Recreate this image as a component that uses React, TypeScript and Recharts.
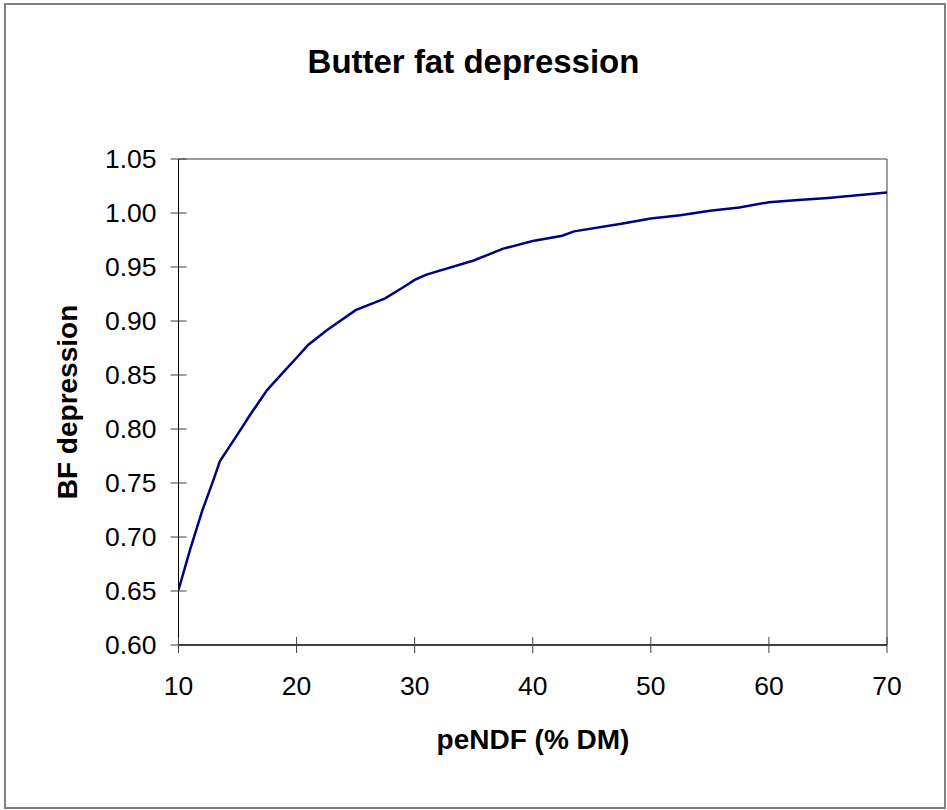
import React from 'react';
import { LineChart, Line, XAxis, YAxis, ReferenceLine } from 'recharts';

const peNDF = [10, 11, 12, 13, 13.5, 15, 16, 17.5, 19, 20, 21, 22.5, 25, 27.5, 29, 30, 31, 35, 37.5, 40, 42.5, 43.5, 47.5, 50, 52.5, 55, 57.5, 60, 62.5, 65, 70];
const bfDepression = [0.651, 0.689, 0.724, 0.754, 0.770, 0.795, 0.812, 0.836, 0.854, 0.866, 0.878, 0.891, 0.910, 0.921, 0.931, 0.938, 0.943, 0.956, 0.967, 0.974, 0.979, 0.983, 0.990, 0.995, 0.998, 1.002, 1.005, 1.010, 1.012, 1.014, 1.019];
const xTicks = [10, 20, 30, 40, 50, 60, 70];
const yTicks = [0.6, 0.65, 0.7, 0.75, 0.8, 0.85, 0.9, 0.95, 1.0, 1.05];

const title = 'Butter fat depression';
const xTitle = 'peNDF (% DM)';
const yTitle = 'BF depression';

const data = peNDF.map((x, i) => ({ x, y: bfDepression[i] }));

const FONT = '"Liberation Sans", Arial, Helvetica, sans-serif';
const TICK_SIZE = 8;
const Y_MARGIN = 14;
const X_MARGIN = 23;

const YTick = (props: any) => {
  const { x, y, payload } = props;
  const axisX = x + TICK_SIZE + Y_MARGIN;
  return (
    <g>
      <line x1={axisX} x2={axisX + TICK_SIZE} y1={y} y2={y} stroke="#404040" strokeWidth={1} />
      <text x={x} y={y} textAnchor="end" dominantBaseline="central" fontFamily={FONT} fontSize={26.5} fill="#000">
        {payload.value.toFixed(2)}
      </text>
    </g>
  );
};

const XTick = (props: any) => {
  const { x, y, payload } = props;
  const axisY = y - TICK_SIZE - X_MARGIN;
  return (
    <g>
      <line x1={x} x2={x} y1={axisY - TICK_SIZE} y2={axisY} stroke="#404040" strokeWidth={1} />
      <text x={x} y={y} textAnchor="middle" dy="0.71em" fontFamily={FONT} fontSize={26.5} fill="#000">
        {payload.value}
      </text>
    </g>
  );
};

export default function App() {
  return (
    <div style={{ position: 'absolute', left: 0, top: 0, width: 947, height: 810, background: '#fff', fontFamily: FONT }}>
      <div style={{ position: 'absolute', left: 4, top: 3, width: 942, height: 806, border: '2px solid #808080', boxSizing: 'border-box' }} />
      <div style={{ position: 'absolute', left: 0, top: 0, width: 947 }}>
        <LineChart width={947} height={810} data={data} margin={{ top: 159, right: 60, bottom: 105, left: 0 }}>
          <XAxis
            dataKey="x"
            type="number"
            domain={[10, 70]}
            ticks={xTicks}
            height={60}
            tickSize={TICK_SIZE}
            tickMargin={X_MARGIN}
            tick={<XTick />}
            axisLine={{ stroke: '#404040', strokeWidth: 2 }}
            tickLine={{ stroke: '#404040' }}
            allowDataOverflow
          />
          <YAxis
            dataKey="y"
            type="number"
            domain={[0.6, 1.05]}
            ticks={yTicks}
            width={178.5}
            tickSize={TICK_SIZE}
            tickMargin={Y_MARGIN}
            tick={<YTick />}
            axisLine={{ stroke: '#000', strokeWidth: 1 }}
            tickLine={{ stroke: '#404040' }}
            allowDataOverflow
          />
          <ReferenceLine y={1.05} stroke="#404040" strokeWidth={1} />
          <ReferenceLine x={70} stroke="#404040" strokeWidth={1} />
          <Line type="linear" dataKey="y" stroke="#000080" strokeWidth={2.5} dot={false} isAnimationActive={false} />
        </LineChart>
      </div>
      <div style={{ position: 'absolute', left: 0, width: 947, top: 41, textAlign: 'center', fontWeight: 'bold', fontSize: 33, lineHeight: '42px', color: '#000' }}>
        {title}
      </div>
      <div style={{ position: 'absolute', left: 333, width: 400, top: 724, textAlign: 'center', fontWeight: 'bold', fontSize: 28, lineHeight: '32px', color: '#000' }}>
        {xTitle}
      </div>
      <div style={{ position: 'absolute', left: 68 - 150, top: 402 - 16, width: 300, height: 32, textAlign: 'center', fontWeight: 'bold', fontSize: 28, lineHeight: '32px', color: '#000', transform: 'rotate(-90deg)' }}>
        {yTitle}
      </div>
    </div>
  );
}
